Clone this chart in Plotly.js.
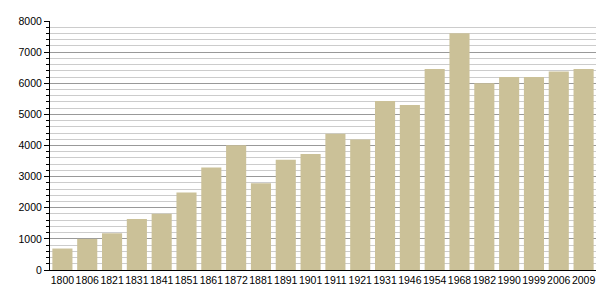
<!DOCTYPE html>
<html>
<head>
<meta charset="utf-8">
<script src="https://cdn.plot.ly/plotly-3.0.1.min.js"></script>
<style>html,body{margin:0;padding:0;background:#fff;}#chart{width:605px;height:300px;}</style>
</head>
<body>
<div id="chart"></div>
<script>
const years = ["1800","1806","1821","1831","1841","1851","1861","1872","1881","1891","1901","1911","1921","1931","1946","1954","1968","1982","1990","1999","2006","2009"];
const population = [690,1000,1180,1640,1810,2490,3290,4010,2790,3540,3730,4380,4190,5430,5300,6460,7610,6000,6200,6200,6380,6460];
const yTicks = [0,1000,2000,3000,4000,5000,6000,7000,8000];

const trace = {
  type: 'bar',
  x: years,
  y: population,
  marker: {color: 'rgb(203,193,152)', line: {width: 0}},
  hoverinfo: 'x+y'
};

const layout = {
  width: 605, height: 300,
  margin: {l: 50, r: 9, t: 21, b: 30, pad: 0},
  paper_bgcolor: '#fff', plot_bgcolor: '#fff',
  bargap: 0.19,
  showlegend: false,
  font: {family: 'Liberation Sans, Arial, sans-serif', size: 10.5, color: '#000'},
  xaxis: {
    type: 'category',
    showline: true, linecolor: '#000', linewidth: 1,
    ticks: '', showgrid: false, tickfont: {size: 10.5},
    tickangle: 0, automargin: false,
    fixedrange: true
  },
  yaxis: {
    range: [0, 8000],
    tickvals: yTicks,
    ticktext: yTicks.map(String),
    showline: true, linecolor: '#000', linewidth: 1,
    ticks: 'outside', ticklen: 5, tickcolor: '#000', tickwidth: 1,
    showgrid: true, gridcolor: '#999', gridwidth: 1,
    zeroline: false,
    minor: {dtick: 200, ticks: 'outside', ticklen: 3, tickcolor: '#000', showgrid: true, gridcolor: '#ccc', gridwidth: 1},
    tickfont: {size: 10.5},
    fixedrange: true
  }
};

Plotly.newPlot('chart', [trace], layout, {staticPlot: true, displayModeBar: false});
</script>
</body>
</html>
